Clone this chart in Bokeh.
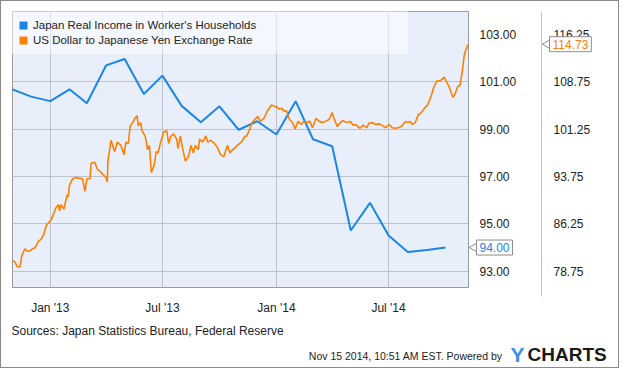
import math
import pandas as pd
from bokeh.plotting import figure
from bokeh.models import (Range1d, LinearAxis, FixedTicker, NumeralTickFormatter, Grid,
                          DatetimeTickFormatter, Legend, LegendItem, Label)
from bokeh.embed import file_html
from bokeh.resources import INLINE

# ---------------- data ----------------
income_dates = ["2012-11-01", "2012-12-01", "2013-01-01", "2013-02-01", "2013-03-01",
                "2013-04-01", "2013-05-01", "2013-06-01", "2013-07-01", "2013-08-01",
                "2013-09-01", "2013-10-01", "2013-11-01", "2013-12-01", "2014-01-01",
                "2014-02-01", "2014-03-01", "2014-04-01", "2014-05-01", "2014-06-01",
                "2014-07-01", "2014-08-01", "2014-09-01", "2014-10-01"]
income_values = [100.69, 100.38, 100.19, 100.69, 100.10, 101.70, 101.97, 100.49, 101.27,
                 99.99, 99.30, 99.97, 98.98, 99.34, 98.78, 100.19, 98.58, 98.28, 94.72,
                 95.89, 94.51, 93.81, 93.90, 94.00]

fx_dates = ["2012-11-01", "2012-11-05", "2012-11-09", "2012-11-13", "2012-11-16", "2012-11-21",
            "2012-11-26", "2012-11-30", "2012-12-03", "2012-12-07", "2012-12-13", "2012-12-17",
            "2012-12-21", "2012-12-26", "2013-01-02", "2013-01-07", "2013-01-10", "2013-01-14",
            "2013-01-16", "2013-01-18", "2013-01-23", "2013-01-28", "2013-01-30", "2013-02-01",
            "2013-02-06", "2013-02-12", "2013-02-15", "2013-02-22", "2013-02-26", "2013-03-01",
            "2013-03-06", "2013-03-08", "2013-03-14", "2013-03-18", "2013-03-22", "2013-03-27",
            "2013-04-01", "2013-04-03", "2013-04-04", "2013-04-09", "2013-04-15", "2013-04-19",
            "2013-04-25", "2013-04-30", "2013-05-03", "2013-05-07", "2013-05-10", "2013-05-14",
            "2013-05-17", "2013-05-21", "2013-05-23", "2013-05-27", "2013-05-29", "2013-06-03",
            "2013-06-05", "2013-06-07", "2013-06-10", "2013-06-13", "2013-06-14", "2013-06-18",
            "2013-06-21", "2013-06-24", "2013-06-28", "2013-07-03", "2013-07-08", "2013-07-11",
            "2013-07-15", "2013-07-19", "2013-07-24", "2013-07-26", "2013-07-30", "2013-08-02",
            "2013-08-07", "2013-08-12", "2013-08-16", "2013-08-20", "2013-08-23", "2013-08-28",
            "2013-08-30", "2013-09-04", "2013-09-09", "2013-09-12", "2013-09-17", "2013-09-23",
            "2013-09-27", "2013-10-03", "2013-10-08", "2013-10-14", "2013-10-18", "2013-10-22",
            "2013-10-25", "2013-10-30", "2013-11-06", "2013-11-11", "2013-11-14", "2013-11-19",
            "2013-11-22", "2013-11-27", "2013-12-02", "2013-12-06", "2013-12-12", "2013-12-17",
            "2013-12-24", "2013-12-31", "2014-01-02", "2014-01-06", "2014-01-10", "2014-01-13",
            "2014-01-17", "2014-01-22", "2014-01-27", "2014-01-31", "2014-02-05", "2014-02-10",
            "2014-02-14", "2014-02-18", "2014-02-24", "2014-02-28", "2014-03-06", "2014-03-11",
            "2014-03-17", "2014-03-21", "2014-03-27", "2014-04-01", "2014-04-03", "2014-04-09",
            "2014-04-14", "2014-04-18", "2014-04-25", "2014-04-30", "2014-05-05", "2014-05-09",
            "2014-05-16", "2014-05-21", "2014-05-27", "2014-05-30", "2014-06-05", "2014-06-10",
            "2014-06-16", "2014-06-20", "2014-06-26", "2014-07-02", "2014-07-07", "2014-07-11",
            "2014-07-17", "2014-07-23", "2014-07-28", "2014-08-01", "2014-08-05", "2014-08-08",
            "2014-08-13", "2014-08-18", "2014-08-22", "2014-08-28", "2014-09-02", "2014-09-08",
            "2014-09-12", "2014-09-17", "2014-09-23", "2014-09-29", "2014-10-02", "2014-10-07",
            "2014-10-13", "2014-10-16", "2014-10-21", "2014-10-24", "2014-10-28", "2014-10-31",
            "2014-11-03", "2014-11-05", "2014-11-07"]
fx_values = [80.4, 80.2, 79.4, 79.4, 81.2, 82.3,
             81.9, 82.0, 82.3, 82.4, 83.5, 83.8,
             84.5, 86.1, 86.8, 88.0, 88.8, 89.3,
             88.3, 89.3, 88.6, 90.8, 90.6, 92.4,
             93.4, 93.6, 93.5, 93.4, 91.4, 93.4,
             93.4, 95.9, 96.0, 94.9, 94.6, 94.1,
             93.6, 92.9, 96.2, 99.5, 97.7, 99.2,
             98.7, 97.2, 99.2, 99.0, 101.8, 102.3,
             102.9, 103.4, 101.8, 102.3, 101.0, 100.2,
             99.2, 98.0, 98.7, 94.4, 94.6, 95.7,
             97.7, 97.5, 99.2, 100.8, 101.0, 99.0,
             100.2, 100.5, 99.7, 98.2, 100.2, 98.5,
             96.2, 96.9, 98.7, 97.5, 98.7, 98.0,
             99.7, 99.2, 100.2, 99.2, 99.5, 99.0,
             98.5, 97.2, 96.9, 98.7, 97.5, 98.0,
             98.2, 98.7, 99.3, 100.1, 100.2, 101.3,
             102.2, 102.8, 103.3, 102.5, 103.0, 104.1,
             105.1, 104.8, 104.8, 104.4, 104.6, 104.1,
             104.2, 102.8, 102.3, 101.3, 102.5, 102.0,
             102.5, 102.3, 102.5, 101.5, 103.0, 102.5,
             102.3, 102.5, 102.8, 103.9, 103.2, 101.7,
             102.3, 102.6, 102.3, 102.5, 101.9, 102.0,
             101.4, 101.9, 101.5, 102.2, 102.3, 102.0,
             102.1, 101.9, 101.5, 102.0, 101.5, 101.4,
             101.5, 101.8, 102.5, 102.3, 102.5, 102.0,
             102.3, 103.6, 103.8, 104.6, 105.1, 106.6,
             107.9, 108.9, 109.0, 109.5, 108.9, 107.9,
             106.3, 106.8, 108.1, 108.1, 110.4, 112.9,
             113.9, 114.4, 114.73]

x_tick_dates = ["2013-01-01", "2013-07-01", "2014-01-01", "2014-07-01"]
income_ticks = [93, 95, 97, 99, 101, 103]
fx_ticks = [78.75, 86.25, 93.75, 101.25, 108.75, 116.25]
x_start, x_end = "2012-11-01", "2014-11-07"
income_range = (92.31, 103.98)
fx_range = (76.16, 119.92)

series_names = ["Japan Real Income in Worker's Households",
                "US Dollar to Japanese Yen Exchange Rate"]
source_text = "Sources: Japan Statistics Bureau, Federal Reserve"
stamp_text = "Nov 15 2014, 10:51 AM EST.  Powered by"

# ---------------- layout / style ----------------
W, H = 619, 368
PL, PR, PT, PB = 11, 467, 10, 286      # plot-area box in pixels
XLAB_PX = 293                           # pixel row where the date labels start
AX2_PX = 540                            # pixel column of the second axis line
BLUE = "#1a86e6"
ORANGE = "#ff8000"
PANEL = "#d3dff5"                       # drawn at 50% over white -> #e9effa
GRID = "#bcc3cf"
FONT = "Liberation Sans"
TXT = "#222222"

ms = lambda d: pd.Timestamp(d).value / 1e6
xs, xe = ms(x_start), ms(x_end)
ppx = (PR - PL) / (xe - xs)
x_lo, x_hi = xs - PL / ppx, xe + (W - PR) / ppx
px_to_x = lambda px: x_lo + px / ppx
ilo, ihi = income_range
ppy = (PB - PT) / (ihi - ilo)
y_lo, y_hi = ilo - (H - PB) / ppy, ihi + PT / ppy
flo, fhi = fx_range
to_fx = lambda v: flo + (v - ilo) * (fhi - flo) / (ihi - ilo)
px_to_inc = lambda py: y_hi - py / ppy

p = figure(width=W, height=H, x_axis_type="datetime", y_axis_location="right",
           output_backend="svg", toolbar_location=None,
           x_range=Range1d(x_lo, x_hi), y_range=Range1d(y_lo, y_hi),
           min_border=0, background_fill_color="white", border_fill_color="white",
           outline_line_color=None)
p.extra_y_ranges = {"fx": Range1d(to_fx(y_lo), to_fx(y_hi))}

# plot-area panel (translucent so the grid shows through it)
panel = p.quad(left=[xs], right=[xe], bottom=[ilo], top=[ihi], fill_color=PANEL,
               fill_alpha=0.5, line_color="#9a9a9a", line_width=1)
panel.level = "image"

# grid lines, limited to the plot-area panel
tick_ms = [ms(d) for d in x_tick_dates]
hticks = income_ticks[:-1]
xg, yg = p.xgrid[0], p.ygrid[0]
xg.ticker = FixedTicker(ticks=tick_ms)
yg.ticker = FixedTicker(ticks=hticks)
for g in (xg, yg):
    g.grid_line_color = GRID
    g.grid_line_width = 1
if "cross_bounds" in Grid.properties():
    xg.cross_bounds = (ilo, ihi)
    yg.cross_bounds = (xs, xe)
else:
    xg.visible = False
    yg.visible = False
    p.segment(x0=tick_ms, x1=tick_ms, y0=[ilo] * len(tick_ms), y1=[ihi] * len(tick_ms),
              line_color=GRID, line_width=1.3)
    p.segment(x0=[xs] * len(hticks), x1=[xe] * len(hticks), y0=hticks, y1=hticks,
              line_color=GRID, line_width=1.3)

# x axis
xa = p.xaxis[0]
xa.fixed_location = px_to_inc(XLAB_PX)
xa.ticker = FixedTicker(ticks=tick_ms)
xa.formatter = DatetimeTickFormatter(months="%b '%y", days="%b '%y", years="%b '%y")
xa.axis_line_color = None
xa.major_tick_line_color = None
xa.minor_tick_line_color = None
xa.major_label_standoff = 0
xa.major_label_text_font = FONT
xa.major_label_text_font_size = "12px"
xa.major_label_text_color = TXT

# income axis
ya = p.yaxis[0]
ya.fixed_location = xe
ya.ticker = FixedTicker(ticks=income_ticks)
ya.formatter = NumeralTickFormatter(format="0.00")
ya.axis_line_color = None
ya.major_tick_line_color = None
ya.minor_tick_line_color = None
ya.major_label_standoff = 5
ya.major_label_text_font = FONT
ya.major_label_text_font_size = "12px"
ya.major_label_text_color = TXT

# yen axis
ya2 = LinearAxis(y_range_name="fx", ticker=FixedTicker(ticks=fx_ticks),
                 formatter=NumeralTickFormatter(format="0.00"),
                 fixed_location=px_to_x(AX2_PX),
                 bounds=(to_fx(px_to_inc(295)), to_fx(px_to_inc(PT))))
ya2.axis_line_color = "#c4c4c4"
ya2.major_tick_line_color = None
ya2.minor_tick_line_color = None
ya2.major_label_standoff = 6
ya2.major_label_text_font = FONT
ya2.major_label_text_font_size = "12px"
ya2.major_label_text_color = TXT
p.add_layout(ya2, "right")

# ---------------- lines ----------------
inc_x = pd.to_datetime(income_dates)
fx_x = pd.to_datetime(fx_dates)
p.line(inc_x, income_values, color=BLUE, line_width=2)
p.line(fx_x, fx_values, color=ORANGE, line_width=1.6, y_range_name="fx")

# legend swatches (zero-size rects on the data, only their legend box shows)
sw1 = p.rect(x=inc_x, y=income_values, width=0, height=0, fill_color=BLUE, line_color=None)
sw2 = p.rect(x=fx_x, y=fx_values, width=0, height=0, fill_color=ORANGE, line_color=None,
             y_range_name="fx")
legend = Legend(items=[LegendItem(label=series_names[0], renderers=[sw1]),
                       LegendItem(label=series_names[1], renderers=[sw2])],
                location="top_left", margin=10, padding=7, spacing=1,
                glyph_width=10, glyph_height=10, label_height=14, label_width=368,
                label_standoff=5, background_fill_color="white", background_fill_alpha=0.5,
                border_line_color="white", border_line_alpha=0.0,
                label_text_font=FONT, label_text_font_size="11.5px",
                label_text_color=TXT)
p.add_layout(legend)

# ---------------- callouts ----------------
p.scatter(x=[px_to_x(546)], y=[fx_values[-1]], y_range_name="fx", marker="triangle",
          angle=math.pi / 2, size=9, fill_color="white", line_color="#8c8c8c")
p.scatter(x=[px_to_x(473)], y=[income_values[-1]], marker="triangle",
          angle=math.pi / 2, size=9, fill_color="white", line_color="#8c8c8c")
p.add_layout(Label(x=548, x_units="screen", y=fx_values[-1], y_range_name="fx",
                   text=f"{fx_values[-1]:.2f}", text_color=ORANGE, text_font=FONT,
                   text_font_size="12px", text_baseline="middle", text_align="left",
                   background_fill_color="white", border_line_color="#8c8c8c", padding=3))
p.add_layout(Label(x=475, x_units="screen", y=income_values[-1],
                   text=f"{income_values[-1]:.2f}", text_color=BLUE, text_font=FONT,
                   text_font_size="12px", text_baseline="middle", text_align="left",
                   background_fill_color="white", border_line_color="#8c8c8c", padding=3))

# ---------------- footer ----------------
p.add_layout(Label(x=10, y=39, x_units="screen", y_units="screen", text=source_text,
                   text_font=FONT, text_font_size="12px", text_color=TXT,
                   text_baseline="middle", text_align="left"))
p.add_layout(Label(x=504, y=14, x_units="screen", y_units="screen", text=stamp_text,
                   text_font=FONT, text_font_size="10.5px", text_color=TXT,
                   text_baseline="middle", text_align="right"))
p.add_layout(Label(x=509, y=15, x_units="screen", y_units="screen", text="Y",
                   text_font=FONT, text_font_style="bold", text_font_size="21px",
                   text_color="#3a8fe6", text_baseline="middle", text_align="left"))
p.add_layout(Label(x=526, y=15, x_units="screen", y_units="screen", text="CHARTS",
                   text_font=FONT, text_font_style="bold", text_font_size="19px",
                   text_color="#1a1a1a", text_baseline="middle", text_align="left"))

p.styles = {"border": "1px solid #8a8a8a"}

open("out.html", "w").write(file_html(p, INLINE))
